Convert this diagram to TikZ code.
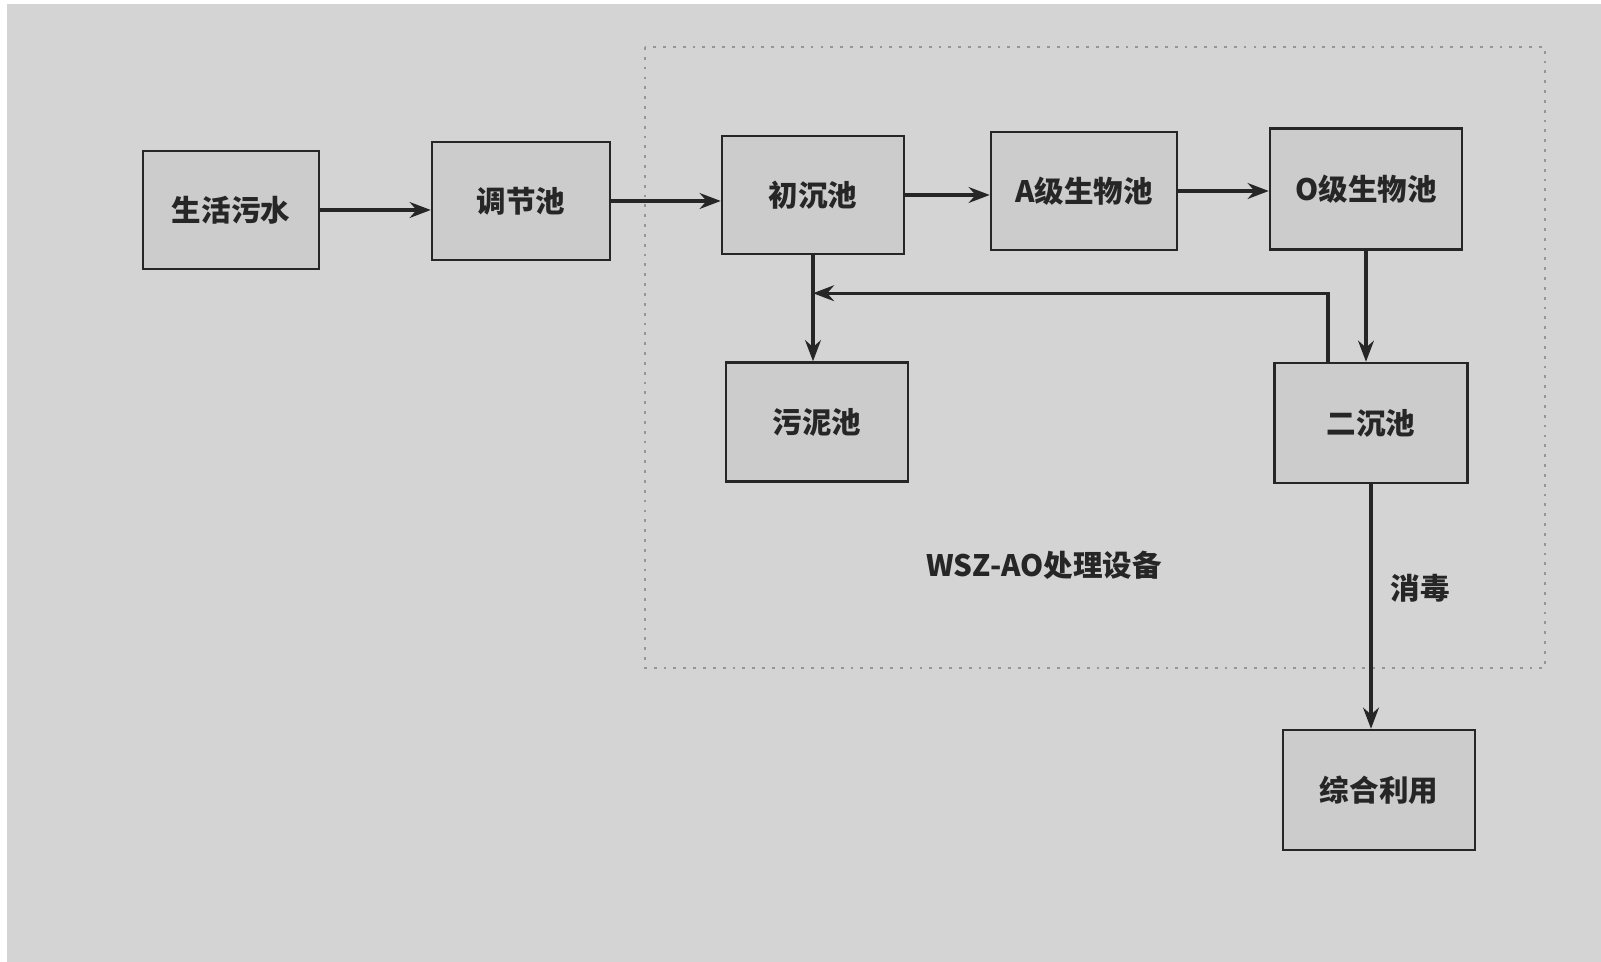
\documentclass[tikz,border=0pt]{standalone}
\usepackage{fontspec}
\usepackage{xcolor}
\usetikzlibrary{arrows.meta,positioning,calc}
\setmainfont{Noto Sans CJK SC}
\definecolor{PaperGray}{RGB}{212,212,212}
\definecolor{BoxGray}{RGB}{204,204,204}
\definecolor{InkDark}{RGB}{38,38,38}
\definecolor{FrameGray}{RGB}{150,150,150}
\tikzset{
  pool/.style={draw=InkDark,fill=BoxGray,line width=0.7pt,
               minimum width=1.82cm,minimum height=1.18cm,
               font=\fontsize{8.4pt}{10pt}\selectfont\bfseries,text=InkDark,
               inner sep=0pt},
  flow/.style={-{Stealth[length=6pt,width=4.5pt]},InkDark,line width=0.9pt},
  note/.style={font=\fontsize{8.4pt}{10pt}\selectfont\bfseries,text=InkDark,inner sep=0pt},
}

\begin{document}
\begin{tikzpicture}[x=1cm,y=1cm]
    % Paper
    \useasboundingbox (0,0) rectangle (16.01,-9.62);
    \fill[white] (0,0) rectangle (16.01,-9.62);
    \fill[PaperGray] (0.07,-0.04) rectangle (16.01,-9.62);

    % Equipment frame
    \draw[FrameGray,dotted,line width=0.8pt] (6.45,-0.47) rectangle (15.45,-6.68);
    \node[note] (wsz) at (10.44,-5.65) {WSZ-AO处理设备};

    % Top row
    \node[pool, minimum width=1.76cm] (wushui) at (2.31,-2.10) {生活污水};
    \node[pool, minimum width=1.78cm] (tiaojie) at (5.21,-2.01) {调节池};
    \node[pool] (chuchen) at (8.13,-1.95) {初沉池};
    \node[pool, minimum width=1.86cm] (achi) at (10.84,-1.91) {A级生物池};
    \node[pool, minimum width=1.92cm, minimum height=1.21cm] (ochi) at (13.66,-1.89) {O级生物池};

    % Middle row
    \node[pool, minimum height=1.19cm] (wuni) at (8.17,-4.22) {污泥池};
    \node[pool, minimum width=1.93cm, minimum height=1.20cm] (erchen) at (13.71,-4.23) {二沉池};

    % Bottom
    \node[pool, minimum width=1.92cm, minimum height=1.20cm] (zonghe) at (13.79,-7.90) {综合利用};
    \node[note] (xiaodu) at (14.20,-5.88) {消毒};

    % Main flow
    \draw[flow] (wushui.east) -- (tiaojie.west |- wushui.east);
    \draw[flow] (tiaojie.east) -- (chuchen.west |- tiaojie.east);
    \draw[flow] (chuchen.east) -- (achi.west |- chuchen.east);
    \draw[flow] (achi.east) -- (ochi.west |- achi.east);
    \draw[flow] (ochi.south) -- (ochi.south |- erchen.north);
    \draw[flow] (chuchen.south) -- (chuchen.south |- wuni.north);
    \draw[flow] (erchen.south) -- (erchen.south |- zonghe.north);

    % Return sludge
    \coordinate (join) at ($(chuchen.south)+(0,-0.38)$);
    \draw[flow] ([xshift=-0.43cm]erchen.north) |- (join);
\end{tikzpicture}
\end{document}
